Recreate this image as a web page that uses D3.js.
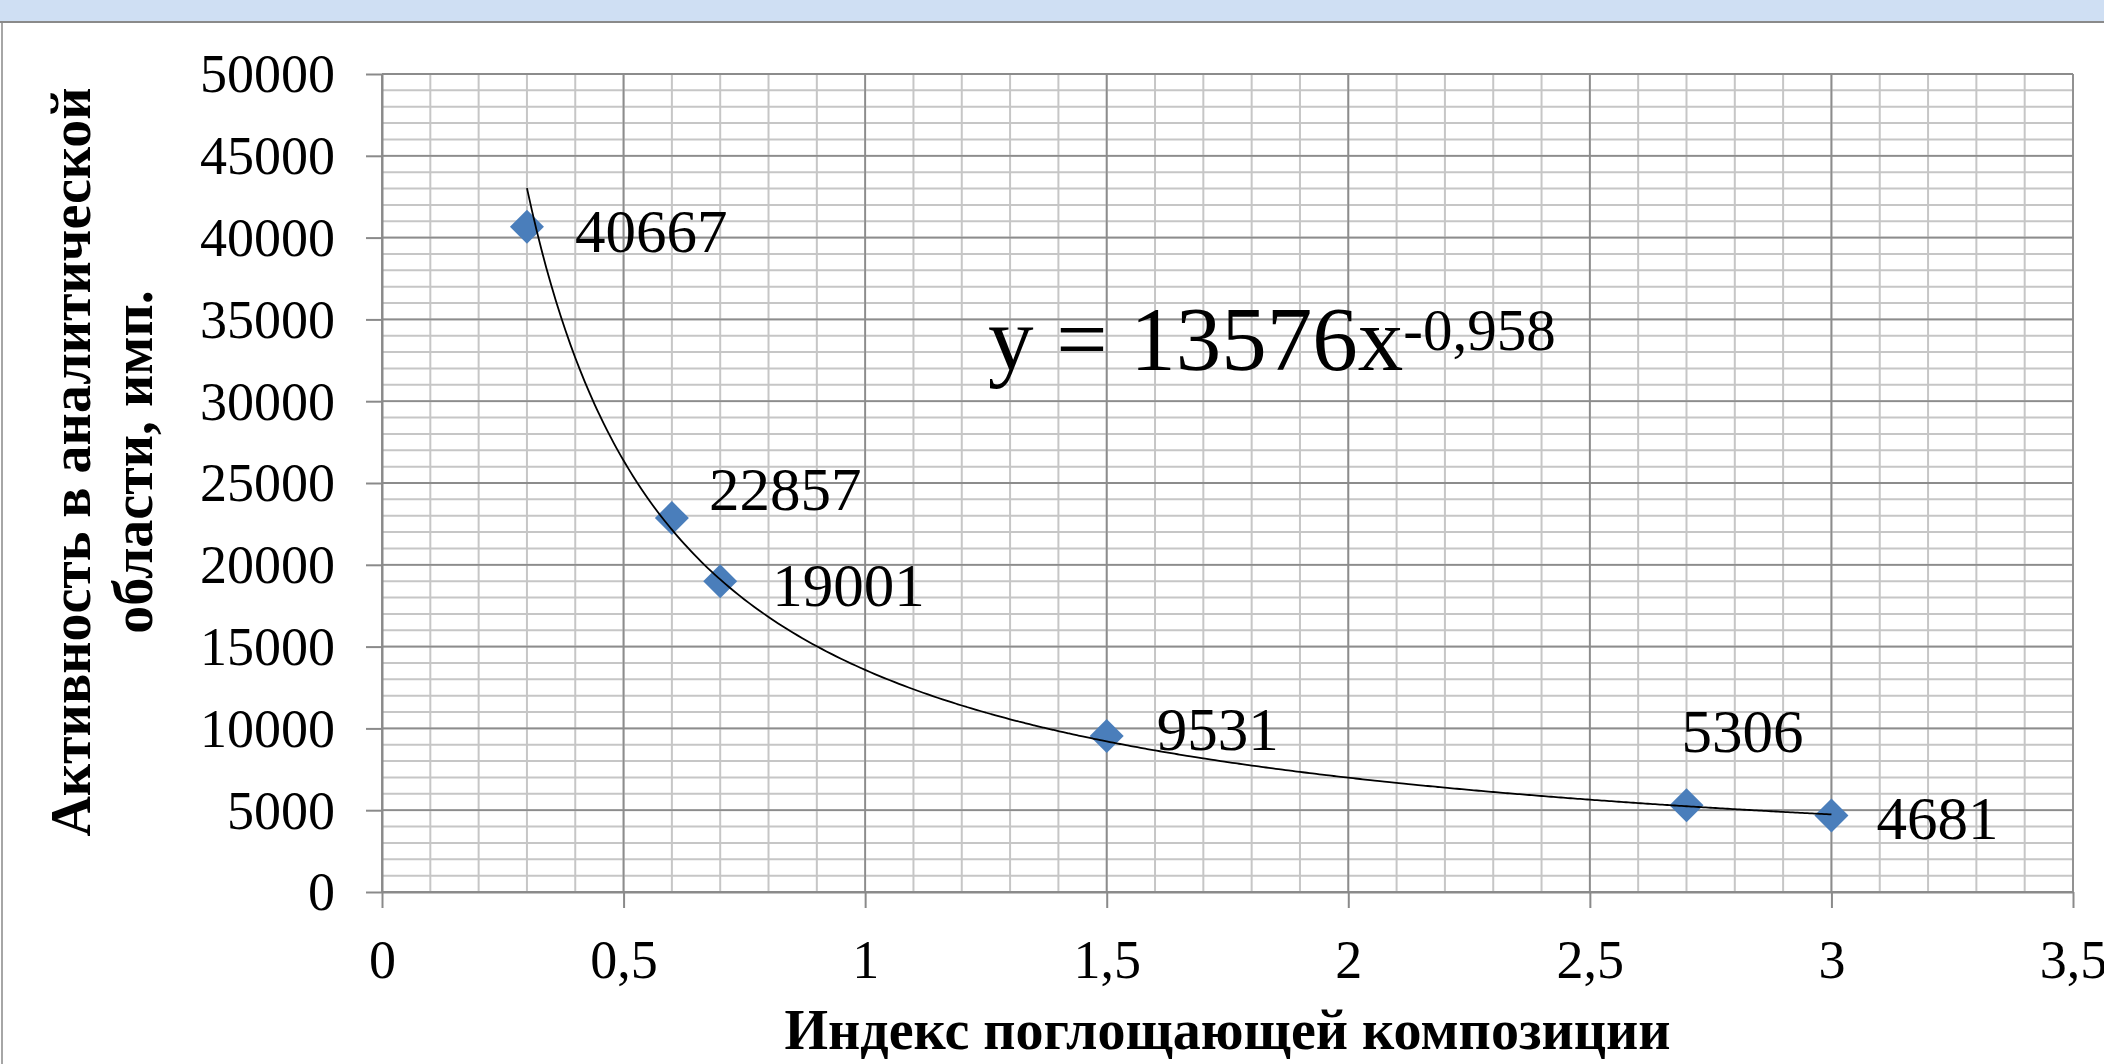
<!DOCTYPE html>
<html>
<head>
<meta charset="utf-8">
<script src="https://cdn.jsdelivr.net/npm/d3@7/dist/d3.min.js"></script>
<style>
  body { margin: 0; background: #fff; overflow: hidden; }
  text { font-family: "Liberation Serif", "Times New Roman", serif; fill: #000; }
</style>
</head>
<body>
<script>
// values
var xValues = [0.3, 0.6, 0.7, 1.5, 2.7, 3];
var yValues = [40667, 22857, 19001, 9531, 5306, 4681];
// power trend line y = a * x^b (as printed on the chart)
var trendCoef = [13576, -0.958];
var trendLabel = ["y = 13576x", "-0,958"];

var xTickValues = [0, 0.5, 1, 1.5, 2, 2.5, 3, 3.5];
var yTickValues = [0, 5000, 10000, 15000, 20000, 25000, 30000, 35000, 40000, 45000, 50000];
var xTitle = "Индекс поглощающей композиции";
var yTitleLines = ["Активность в аналитической", "области, имп."];

// label placement relative to each marker (moved by hand in the original)
var labelShift = [[48, 4], [37, -29], [52, 4], [50, -7], [-5, -74], [45, 3]];

var W = 2104, H = 1064;
var margin = {top: 74, right: 31, bottom: 172, left: 382},
    width = W - margin.left - margin.right,
    height = H - margin.top - margin.bottom;

var svg = d3.select("body").append("svg")
    .attr("width", W)
    .attr("height", H);

// window frame: blue strip on top, grey edge on the left
svg.append("rect").attr("x", 0).attr("y", 0).attr("width", W).attr("height", 21).attr("fill", "#cfdff3");
svg.append("line").attr("x1", 0).attr("x2", W).attr("y1", 22).attr("y2", 22)
    .attr("stroke", "#8a8a8a").attr("stroke-width", 2);
svg.append("line").attr("x1", 2).attr("x2", 2).attr("y1", 23).attr("y2", H)
    .attr("stroke", "#a6a6a6").attr("stroke-width", 2);

var g = svg.append("g")
    .attr("transform", "translate(" + margin.left + "," + margin.top + ")");

var x = d3.scaleLinear().domain([0, 3.5]).range([0, width]);
var y = d3.scaleLinear().domain([0, 50000]).range([height, 0]);

// minor grid (0.1 and 1000 steps)
g.append("g").selectAll("line")
    .data(x.ticks(35))
    .enter().append("line")
    .attr("x1", function(d) { return x(d); }).attr("x2", function(d) { return x(d); })
    .attr("y1", 0).attr("y2", height)
    .attr("stroke", "#c6c6c6").attr("stroke-width", 2);
g.append("g").selectAll("line")
    .data(y.ticks(50))
    .enter().append("line")
    .attr("y1", function(d) { return y(d); }).attr("y2", function(d) { return y(d); })
    .attr("x1", 0).attr("x2", width)
    .attr("stroke", "#c6c6c6").attr("stroke-width", 2);

// major grid
g.append("g").selectAll("line")
    .data(xTickValues)
    .enter().append("line")
    .attr("x1", function(d) { return x(d); }).attr("x2", function(d) { return x(d); })
    .attr("y1", 0).attr("y2", height)
    .attr("stroke", "#8c8c8c").attr("stroke-width", 1.8);
g.append("g").selectAll("line")
    .data(yTickValues)
    .enter().append("line")
    .attr("y1", function(d) { return y(d); }).attr("y2", function(d) { return y(d); })
    .attr("x1", 0).attr("x2", width)
    .attr("stroke", "#8c8c8c").attr("stroke-width", 1.8);

// axes
var xAxis = g.append("g")
    .attr("transform", "translate(0," + height + ")")
    .call(d3.axisBottom(x).tickValues(xTickValues).tickSize(16).tickSizeOuter(0).tickPadding(32)
      .tickFormat(function(d) { return String(d).replace(".", ","); }));
var yAxis = g.append("g")
    .call(d3.axisLeft(y).tickValues(yTickValues).tickSize(16).tickSizeOuter(0).tickPadding(31)
      .tickFormat(function(d) { return d; }));

[xAxis, yAxis].forEach(function(a) {
  a.select(".domain").attr("stroke", "#8a8a8a").attr("stroke-width", 2);
  a.selectAll(".tick line").attr("stroke", "#8a8a8a").attr("stroke-width", 2);
  a.selectAll(".tick text")
    .attr("font-family", "Liberation Serif, Times New Roman, serif")
    .attr("font-size", 54).attr("fill", "#000");
});
yAxis.selectAll(".tick text").attr("dy", "0.33em");
xAxis.selectAll(".tick text").attr("dy", "0.71em");

// markers
g.append("g").selectAll("path")
    .data(xValues)
    .enter().append("path")
    .attr("d", "M0,-17L17,0L0,17L-17,0Z")
    .attr("transform", function(d, i) { return "translate(" + x(d) + "," + y(yValues[i]) + ")"; })
    .attr("fill", "#4a7ebb");

// trend line across the data range
var trendX = d3.range(d3.min(xValues), d3.max(xValues) + 0.001, 0.01);
var trend = d3.line()
    .x(function(d) { return x(d); })
    .y(function(d) { return y(trendCoef[0] * Math.pow(d, trendCoef[1])); })
    .curve(d3.curveMonotoneX);
g.append("path")
    .datum(trendX)
    .attr("d", trend)
    .attr("fill", "none")
    .attr("stroke", "#000")
    .attr("stroke-width", 1.8);

// value labels
g.append("g").selectAll("text")
    .data(yValues)
    .enter().append("text")
    .attr("x", function(d, i) { return x(xValues[i]) + labelShift[i][0]; })
    .attr("y", function(d, i) { return y(d) + labelShift[i][1] + 21; })
    .attr("font-size", 61)
    .text(function(d) { return d; });

// trend equation
var eq = g.append("text")
    .attr("x", 606).attr("y", 296)
    .attr("font-size", 91);
eq.append("tspan").text(trendLabel[0]);
eq.append("tspan").attr("dy", -20).attr("font-size", 59).text(trendLabel[1]);

// axis titles
svg.append("text")
    .attr("x", margin.left + width / 2).attr("y", 1049)
    .attr("text-anchor", "middle")
    .attr("font-size", 56).attr("font-weight", "bold")
    .text(xTitle);

var yt = svg.append("g")
    .attr("transform", "translate(0,462) rotate(-90)");
yt.selectAll("text")
    .data(yTitleLines)
    .enter().append("text")
    .attr("x", 0)
    .attr("y", function(d, i) { return 90 + i * 62; })
    .attr("text-anchor", "middle")
    .attr("font-size", 56).attr("font-weight", "bold")
    .text(function(d) { return d; });
</script>
</body>
</html>
